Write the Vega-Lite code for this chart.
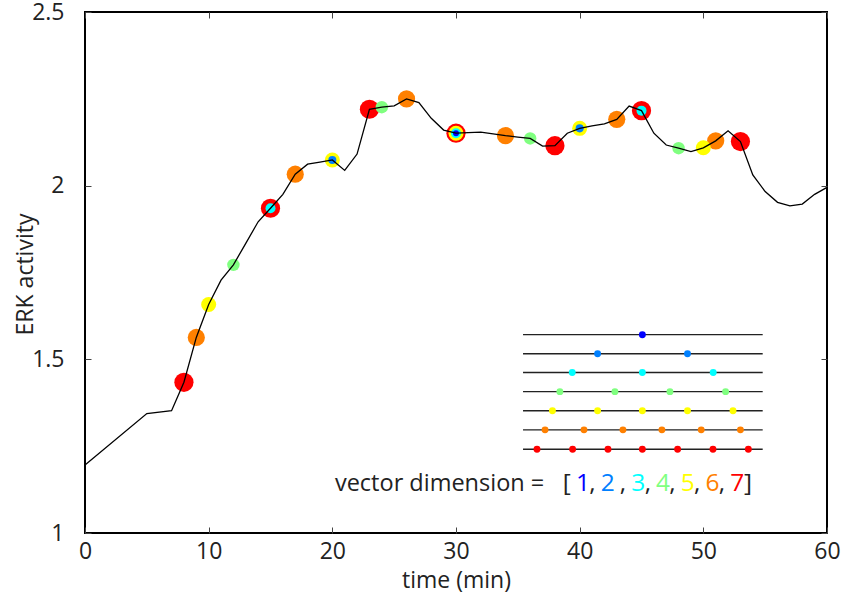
{
  "$schema": "https://vega.github.io/schema/vega-lite/v6.json",
  "width": 742,
  "height": 521,
  "autosize": {"type": "none"},
  "padding": {"left": 85, "top": 12, "right": 21, "bottom": 65},
  "background": "white",
  "config": {
    "view": {"stroke": "black", "strokeWidth": 2},
    "font": "Open Sans",
    "axis": {
      "grid": false,
      "domain": false,
      "labelFont": "Open Sans",
      "titleFont": "Open Sans",
      "labelFontSize": 23,
      "titleFontSize": 23,
      "titleFontWeight": "normal",
      "labelColor": "#222",
      "titleColor": "#222",
      "tickColor": "#444",
      "tickWidth": 1
    }
  },
  "datasets": {
    "erk": [
      {"t": 0, "v": 1.196}, {"t": 5, "v": 1.344}, {"t": 7, "v": 1.352},
      {"t": 8, "v": 1.434}, {"t": 9, "v": 1.563}, {"t": 10, "v": 1.658},
      {"t": 11, "v": 1.728}, {"t": 12, "v": 1.772}, {"t": 13, "v": 1.834},
      {"t": 14, "v": 1.896}, {"t": 15, "v": 1.935}, {"t": 16, "v": 1.975},
      {"t": 17, "v": 2.033}, {"t": 18, "v": 2.062}, {"t": 19, "v": 2.068},
      {"t": 20, "v": 2.074}, {"t": 21, "v": 2.044}, {"t": 22, "v": 2.091},
      {"t": 23, "v": 2.22}, {"t": 24, "v": 2.226}, {"t": 25, "v": 2.23},
      {"t": 26, "v": 2.25}, {"t": 27, "v": 2.239}, {"t": 28, "v": 2.194},
      {"t": 29, "v": 2.16}, {"t": 30, "v": 2.151}, {"t": 31, "v": 2.153},
      {"t": 32, "v": 2.154}, {"t": 33, "v": 2.149}, {"t": 34, "v": 2.144},
      {"t": 35, "v": 2.14}, {"t": 36, "v": 2.136}, {"t": 37, "v": 2.114},
      {"t": 38, "v": 2.115}, {"t": 39, "v": 2.151}, {"t": 40, "v": 2.165},
      {"t": 41, "v": 2.172}, {"t": 42, "v": 2.178}, {"t": 43, "v": 2.191},
      {"t": 44, "v": 2.229}, {"t": 45, "v": 2.216}, {"t": 46, "v": 2.151},
      {"t": 47, "v": 2.117}, {"t": 48, "v": 2.108}, {"t": 49, "v": 2.098},
      {"t": 50, "v": 2.109}, {"t": 51, "v": 2.129}, {"t": 52, "v": 2.158},
      {"t": 53, "v": 2.127}, {"t": 54, "v": 2.031}, {"t": 55, "v": 1.983},
      {"t": 56, "v": 1.952}, {"t": 57, "v": 1.942}, {"t": 58, "v": 1.947},
      {"t": 59, "v": 1.975}, {"t": 60, "v": 1.995}
    ],
    "markers": [
      {"dim": 7, "t": 8, "v": 1.434}, {"dim": 7, "t": 15, "v": 1.935}, {"dim": 7, "t": 23, "v": 2.22},
      {"dim": 7, "t": 30, "v": 2.151}, {"dim": 7, "t": 38, "v": 2.115}, {"dim": 7, "t": 45, "v": 2.216},
      {"dim": 7, "t": 53, "v": 2.127},
      {"dim": 6, "t": 9, "v": 1.563}, {"dim": 6, "t": 17, "v": 2.033}, {"dim": 6, "t": 26, "v": 2.25},
      {"dim": 6, "t": 34, "v": 2.144}, {"dim": 6, "t": 43, "v": 2.191}, {"dim": 6, "t": 51, "v": 2.129},
      {"dim": 5, "t": 10, "v": 1.658}, {"dim": 5, "t": 20, "v": 2.074}, {"dim": 5, "t": 30, "v": 2.151},
      {"dim": 5, "t": 40, "v": 2.165}, {"dim": 5, "t": 50, "v": 2.109},
      {"dim": 4, "t": 12, "v": 1.772}, {"dim": 4, "t": 24, "v": 2.226}, {"dim": 4, "t": 36, "v": 2.136},
      {"dim": 4, "t": 48, "v": 2.108},
      {"dim": 3, "t": 15, "v": 1.935}, {"dim": 3, "t": 30, "v": 2.151}, {"dim": 3, "t": 45, "v": 2.216},
      {"dim": 2, "t": 20, "v": 2.074}, {"dim": 2, "t": 40, "v": 2.165},
      {"dim": 1, "t": 30, "v": 2.151}
    ],
    "legendLines": [
      {"dim": 1, "t0": 35.42, "t1": 54.8, "v": 1.571},
      {"dim": 2, "t0": 35.42, "t1": 54.8, "v": 1.516},
      {"dim": 3, "t0": 35.42, "t1": 54.8, "v": 1.462},
      {"dim": 4, "t0": 35.42, "t1": 54.8, "v": 1.407},
      {"dim": 5, "t0": 35.42, "t1": 54.8, "v": 1.352},
      {"dim": 6, "t0": 35.42, "t1": 54.8, "v": 1.297},
      {"dim": 7, "t0": 35.42, "t1": 54.8, "v": 1.241}
    ],
    "legendDots": [
      {"dim": 1, "t": 45.07, "v": 1.571},
      {"dim": 2, "t": 41.45, "v": 1.516}, {"dim": 2, "t": 48.72, "v": 1.516},
      {"dim": 3, "t": 39.4, "v": 1.462}, {"dim": 3, "t": 45.07, "v": 1.462}, {"dim": 3, "t": 50.8, "v": 1.462},
      {"dim": 4, "t": 38.4, "v": 1.407}, {"dim": 4, "t": 42.85, "v": 1.407}, {"dim": 4, "t": 47.3, "v": 1.407}, {"dim": 4, "t": 51.8, "v": 1.407},
      {"dim": 5, "t": 37.8, "v": 1.352}, {"dim": 5, "t": 41.45, "v": 1.352}, {"dim": 5, "t": 45.07, "v": 1.352}, {"dim": 5, "t": 48.72, "v": 1.352}, {"dim": 5, "t": 52.4, "v": 1.352},
      {"dim": 6, "t": 37.2, "v": 1.297}, {"dim": 6, "t": 40.35, "v": 1.297}, {"dim": 6, "t": 43.5, "v": 1.297}, {"dim": 6, "t": 46.65, "v": 1.297}, {"dim": 6, "t": 49.83, "v": 1.297}, {"dim": 6, "t": 53.0, "v": 1.297},
      {"dim": 7, "t": 36.55, "v": 1.241}, {"dim": 7, "t": 39.43, "v": 1.241}, {"dim": 7, "t": 42.29, "v": 1.241}, {"dim": 7, "t": 45.07, "v": 1.241}, {"dim": 7, "t": 47.92, "v": 1.241}, {"dim": 7, "t": 50.78, "v": 1.241}, {"dim": 7, "t": 53.64, "v": 1.241}
    ],
    "labelHead": [
      {"part": "vector dimension =", "dim": 0, "t": 20.21, "v": 1.121}
    ],
    "label": [
      {"part": "[", "dim": 0, "t": 38.96, "v": 1.121},
      {"part": "1", "dim": 1, "t": 40.27, "v": 1.121},
      {"part": ",", "dim": 0, "t": 41.04, "v": 1.121},
      {"part": "2", "dim": 2, "t": 42.27, "v": 1.121},
      {"part": ",", "dim": 0, "t": 43.5, "v": 1.121},
      {"part": "3", "dim": 3, "t": 44.73, "v": 1.121},
      {"part": ",", "dim": 0, "t": 45.51, "v": 1.121},
      {"part": "4", "dim": 4, "t": 46.74, "v": 1.121},
      {"part": ",", "dim": 0, "t": 47.51, "v": 1.121},
      {"part": "5", "dim": 5, "t": 48.74, "v": 1.121},
      {"part": ",", "dim": 0, "t": 49.51, "v": 1.121},
      {"part": "6", "dim": 6, "t": 50.74, "v": 1.121},
      {"part": ",", "dim": 0, "t": 51.51, "v": 1.121},
      {"part": "7", "dim": 7, "t": 52.74, "v": 1.121},
      {"part": "]", "dim": 0, "t": 53.61, "v": 1.121}
    ]
  },
  "resolve": {"axis": {"x": "independent", "y": "independent"}},
  "layer": [
    {
      "data": {"name": "markers"},
      "mark": {"type": "circle", "opacity": 1},
      "encoding": {
        "x": {"field": "t", "type": "quantitative",
              "scale": {"domain": [0, 60], "nice": false, "zero": false},
              "axis": {"orient": "bottom", "title": "time (min)", "values": [0, 10, 20, 30, 40, 50, 60],
                       "tickSize": -6, "labelPadding": 13, "titlePadding": 6, "labelFlush": false}},
        "y": {"field": "v", "type": "quantitative",
              "scale": {"domain": [1, 2.5], "nice": false, "zero": false},
              "axis": {"orient": "left", "title": "ERK activity", "values": [1, 1.5, 2, 2.5], "format": "~g",
                       "tickSize": -6, "labelPadding": 27, "titleX": -60, "titleY": 262,
                       "titleAngle": -90, "titleAlign": "center", "titleBaseline": "middle", "labelFlush": false}},
        "color": {"field": "dim", "type": "ordinal",
                  "scale": {"domain": [0, 1, 2, 3, 4, 5, 6, 7],
                            "range": ["#222222", "#0000ff", "#0080ff", "#00ffff", "#80ff80", "#ffff00", "#ff8000", "#ff0000"]},
                  "legend": null},
        "size": {"field": "dim", "type": "quantitative",
                 "scale": {"type": "threshold", "domain": [1.5, 2.5, 3.5, 4.5, 5.5, 6.5], "range": [35, 65, 100, 155, 225, 295, 370]},
                 "legend": null}
      }
    },
    {
      "data": {"name": "erk"},
      "mark": {"type": "line", "color": "black", "strokeWidth": 1.3},
      "encoding": {
        "x": {"field": "t", "type": "quantitative",
              "axis": {"orient": "top", "labels": false, "title": null, "values": [0, 10, 20, 30, 40, 50, 60], "tickSize": -6}},
        "y": {"field": "v", "type": "quantitative",
              "axis": {"orient": "right", "labels": false, "title": null, "values": [1, 1.5, 2, 2.5], "tickSize": -6}}
      }
    },
    {
      "data": {"name": "legendLines"},
      "mark": {"type": "rule", "color": "#222", "strokeWidth": 1.4},
      "encoding": {
        "x": {"field": "t0", "type": "quantitative", "axis": null},
        "x2": {"field": "t1"},
        "y": {"field": "v", "type": "quantitative", "axis": null}
      }
    },
    {
      "data": {"name": "legendDots"},
      "mark": {"type": "circle", "opacity": 1, "size": 48},
      "encoding": {
        "x": {"field": "t", "type": "quantitative", "axis": null},
        "y": {"field": "v", "type": "quantitative", "axis": null},
        "color": {"field": "dim", "type": "ordinal", "legend": null}
      }
    },
    {
      "data": {"name": "labelHead"},
      "mark": {"type": "text", "align": "left", "baseline": "alphabetic", "fontSize": 23.5, "font": "Open Sans"},
      "encoding": {
        "x": {"field": "t", "type": "quantitative", "axis": null},
        "y": {"field": "v", "type": "quantitative", "axis": null},
        "text": {"field": "part"},
        "color": {"field": "dim", "type": "ordinal", "legend": null}
      }
    },
    {
      "data": {"name": "label"},
      "mark": {"type": "text", "align": "center", "baseline": "alphabetic", "fontSize": 24.5, "font": "Open Sans"},
      "encoding": {
        "x": {"field": "t", "type": "quantitative", "axis": null},
        "y": {"field": "v", "type": "quantitative", "axis": null},
        "text": {"field": "part"},
        "color": {"field": "dim", "type": "ordinal", "legend": null}
      }
    }
  ]
}
